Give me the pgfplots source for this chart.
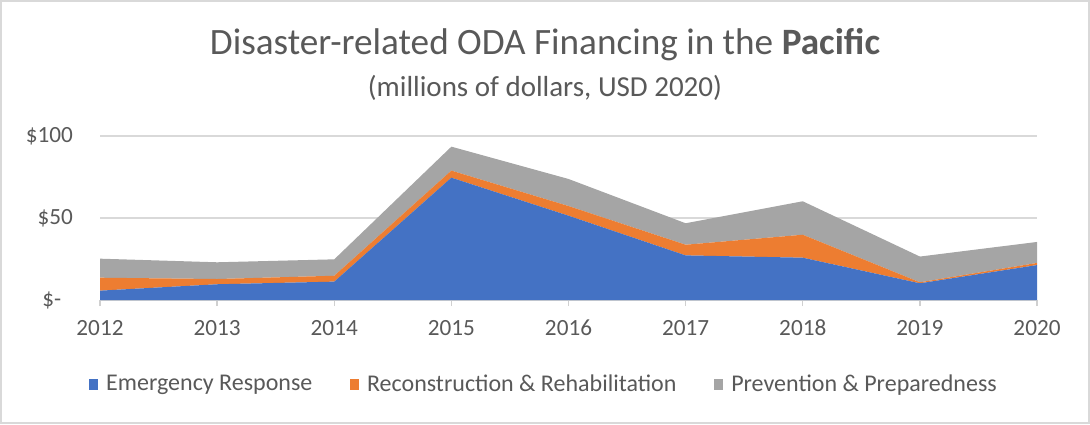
\documentclass[border=0pt]{standalone}
\usepackage{pgfplots}
\pgfplotsset{compat=1.18}
\usepackage{fontspec}
\setmainfont{Carlito}
\definecolor{cblue}{HTML}{4472C4}
\definecolor{corange}{HTML}{ED7D31}
\definecolor{cgray}{HTML}{A5A5A5}
\definecolor{textgray}{HTML}{595959}
\definecolor{gridgray}{HTML}{D9D9D9}
\definecolor{axisgray}{HTML}{D0D0D0}
\begin{document}
\begin{tikzpicture}
\useasboundingbox (0,0) rectangle (545pt,212pt);
\draw[color=gridgray, line width=0.8pt] (0.4pt,0.4pt) rectangle (544.6pt,211.6pt);
\node[text=textgray, font=\fontsize{18.6}{22}\selectfont] at (272.5pt,189.5pt) {Disaster-related ODA Financing in the \textbf{Pacific}};
\node[text=textgray, font=\fontsize{14.5}{17}\selectfont] at (272.5pt,168pt) {(millions of dollars, USD 2020)};
\begin{axis}[
  at={(50pt,62pt)}, anchor=south west,
  scale only axis, width=468.5pt, height=82pt,
  xmin=2012, xmax=2020, ymin=0, ymax=100,
  stack plots=y,
  xtick={2012,2013,2014,2015,2016,2017,2018,2019,2020},
  xticklabels={2012,2013,2014,2015,2016,2017,2018,2019,2020},
  ytick={0,50,100},
  yticklabels={\$-\hphantom{0},\$50,\$100},
  ymajorgrids,
  grid style={color=gridgray, line width=0.7pt},
  axis x line*=bottom, axis y line*=left,
  y axis line style={draw=none},
  x axis line style={color=axisgray, line width=0.7pt, -},
  ytick style={draw=none},
  xtick style={color=axisgray, line width=0.7pt},
  tick align=outside, major tick length=3pt,
  tick label style={font=\fontsize{11.6}{13}\selectfont, text=textgray},
  yticklabel style={xshift=-7pt},
  xticklabel style={yshift=-3.5pt},
  legend style={at={(0.475,-0.515)}, anchor=center, draw=none, fill=none,
    font=\fontsize{12}{14}\selectfont, text=textgray,
    /tikz/every odd column/.append style={column sep=2pt},
    /tikz/every even column/.append style={column sep=17pt}},
  legend columns=3,
  legend cell align=left,
  legend image code/.code={\fill[#1] (0pt,-2.9pt) rectangle (4.4pt,2.9pt);},
]
\addplot[fill=cblue, draw=none] table {
x y
2012 5.7
2013 9.6
2014 11.2
2015 74.6
2016 51.4
2017 27.2
2018 25.8
2019 10.2
2020 21.3
} \closedcycle;
\addplot[fill=corange, draw=none] table {
x y
2012 7.9
2013 3.2
2014 3.6
2015 4.3
2016 5.9
2017 6.5
2018 14.0
2019 0.6
2020 1.3
} \closedcycle;
\addplot[fill=cgray, draw=none] table {
x y
2012 11.6
2013 10.2
2014 10.0
2015 14.6
2016 16.5
2017 13.1
2018 20.4
2019 15.7
2020 12.8
} \closedcycle;
\legend{Emergency Response, Reconstruction \& Rehabilitation, Prevention \& Preparedness}
\end{axis}
\end{tikzpicture}
\end{document}
